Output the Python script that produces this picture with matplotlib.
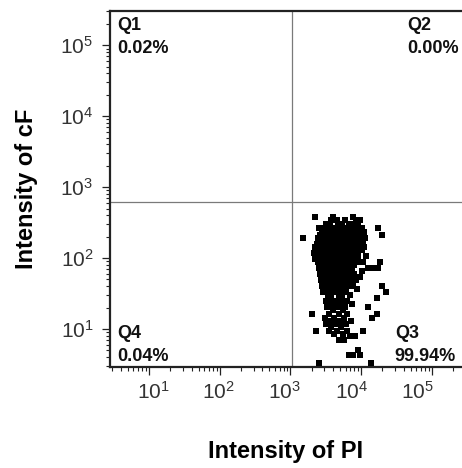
import matplotlib
matplotlib.use('Agg')
import matplotlib.pyplot as plt
import matplotlib.transforms as mtrans
from matplotlib.ticker import LogLocator, NullFormatter
import numpy as np

# ------------------------------------------------------------------ DATA
# quadrant gates and percentages
gate_pi = 1050.0
gate_cf = 620.0
quad_names = ['Q1', 'Q2', 'Q3', 'Q4']
quad_pct = ['0.02%', '0.00%', '99.94%', '0.04%']

# events, log10 intensity, one cF level per row
cf_rows = [2.58, 2.54, 2.48, 2.42, 2.37, 2.32, 2.28, 2.24, 2.20, 2.15,
           2.11, 2.07, 2.03, 1.99, 1.94, 1.90, 1.86, 1.82, 1.77, 1.73,
           1.69, 1.65, 1.61, 1.56, 1.52, 1.48, 1.44, 1.39, 1.35, 1.31,
           1.27, 1.21, 1.15, 1.11, 1.07, 1.03, 0.97, 0.93, 0.90, 0.85,
           0.70, 0.63, 0.52]
pi_rows = [
    [3.35, 3.60, 3.88],
    [3.57, 3.66, 3.77, 3.92, 3.99],
    [3.50, 3.56, 3.67, 3.73, 3.83, 3.88, 3.95],
    [3.40, 3.47, 3.54, 3.60, 3.66, 3.71, 3.78, 3.85, 3.92, 4.01, 4.24],
    [3.45, 3.52, 3.57, 3.63, 3.69, 3.76, 3.81, 3.88, 3.95, 4.04],
    [3.42, 3.49, 3.56, 3.62, 3.74, 3.80, 3.87, 3.94, 4.00, 4.29],
    [3.18, 3.39, 3.46, 3.53, 3.59, 3.64, 3.71, 3.77, 3.84, 3.91, 3.98, 4.05],
    [3.43, 3.50, 3.57, 3.63, 3.69, 3.76, 3.88, 3.95, 4.02],
    [3.37, 3.44, 3.52, 3.59, 3.73, 3.78, 3.85, 3.92, 3.99],
    [3.35, 3.42, 3.49, 3.56, 3.62, 3.69, 3.76, 3.83, 3.90, 4.04],
    [3.39, 3.46, 3.53, 3.60, 3.66, 3.71, 3.78, 3.85, 3.92, 4.01],
    [3.33, 3.42, 3.49, 3.63, 3.69, 3.76, 3.81, 3.88, 3.95],
    [3.37, 3.44, 3.52, 3.59, 3.64, 3.71, 3.78, 3.84, 3.91, 4.07],
    [3.35, 3.42, 3.49, 3.54, 3.62, 3.67, 3.74, 3.81, 3.95],
    [3.39, 3.46, 3.53, 3.59, 3.66, 3.73, 3.80, 3.87, 3.94, 4.02, 4.26],
    [3.43, 3.50, 3.57, 3.63, 3.77, 3.83, 3.90],
    [3.40, 3.47, 3.54, 3.62, 3.67, 3.74, 3.81, 3.87, 4.10, 4.17, 4.24],
    [3.45, 3.52, 3.59, 3.64, 3.71, 3.78, 3.85, 4.01],
    [3.42, 3.49, 3.56, 3.69, 3.76, 3.83, 3.90],
    [3.46, 3.53, 3.60, 3.67, 3.74, 3.80, 3.98],
    [3.43, 3.50, 3.57, 3.64, 3.78, 3.85, 3.92],
    [3.47, 3.54, 3.62, 3.69, 3.76, 3.83],
    [3.45, 3.52, 3.60, 3.67, 3.81, 3.88, 4.29],
    [3.49, 3.56, 3.64, 3.71, 3.78, 3.94],
    [3.46, 3.62, 3.76, 4.35],
    [3.53, 3.69, 3.84],
    [3.58, 3.73, 4.22],
    [3.50, 3.64, 3.80],
    [3.57, 3.71, 3.87],
    [3.52, 3.66, 3.77, 4.10],
    [3.60, 3.74],
    [3.30, 3.54, 3.68, 3.80, 4.22],
    [3.49, 3.62, 3.76, 4.15],
    [3.56, 3.70, 3.86],
    [3.50, 3.64, 3.78],
    [3.58, 3.72],
    [3.36, 3.55, 3.66, 3.80, 4.03],
    [3.62, 3.74],
    [3.84, 3.91],
    [3.69, 3.75],
    [3.96],
    [3.83, 3.88, 3.98],
    [3.40, 4.14],
]

pi = 10 ** np.concatenate([np.array(r) for r in pi_rows])
cf = 10 ** np.repeat(cf_rows, [len(r) for r in pi_rows])

# ------------------------------------------------------------------ STYLE
plt.rcParams['font.family'] = 'Liberation Sans'
plt.rcParams['mathtext.fontset'] = 'custom'
plt.rcParams['mathtext.rm'] = 'Liberation Sans'
plt.rcParams['mathtext.it'] = 'Liberation Sans:italic'
plt.rcParams['mathtext.bf'] = 'Liberation Sans:bold'

fig = plt.figure(figsize=(4.62, 4.68), dpi=100)
ax = fig.add_axes([0.2381, 0.2158, 0.7619, 0.7607])

ax.scatter(pi, cf, s=13, marker='s', color='black', linewidths=0, zorder=3)

ax.axvline(gate_pi, color='#7a7a7a', lw=0.9, zorder=2)
ax.axhline(gate_cf, color='#7a7a7a', lw=0.9, zorder=2)

ax.set_xscale('log')
ax.set_yscale('log')
ax.set_xlim(10 ** 0.447, 10 ** 5.426)
ax.set_ylim(10 ** 0.465, 10 ** 5.483)

for axis in (ax.xaxis, ax.yaxis):
    axis.set_major_locator(LogLocator(base=10, numticks=10))
    axis.set_minor_locator(LogLocator(base=10, subs=np.arange(2, 10), numticks=10))
    axis.set_minor_formatter(NullFormatter())

ax.tick_params(which='major', direction='out', length=6, width=0.9,
               color='#222222', labelsize=15, labelcolor='#333333')
ax.tick_params(which='minor', direction='out', length=3, width=0.8,
               color='#222222')
ax.tick_params(axis='x', which='major', pad=4)
ax.tick_params(axis='y', which='major', pad=6)

for side in ('left', 'bottom', 'top'):
    ax.spines[side].set_linewidth(1.6)
    ax.spines[side].set_color('#222222')
ax.spines['right'].set_visible(False)

# x tick labels in the original sit a little off their ticks
fig.canvas.draw()
shift_px = {1: 4, 2: -1, 3: -6, 4: -10, 5: -14}
for tick in ax.xaxis.get_major_ticks():
    exp = int(round(np.log10(tick.get_loc())))
    if exp in shift_px:
        lab = tick.label1
        lab.set_transform(lab.get_transform() + mtrans.ScaledTranslation(
            shift_px[exp] / 100.0, 0, fig.dpi_scale_trans))

# quadrant labels
tx = [0.02, 0.844, 0.809, 0.02]
ty = [0.983, 0.983, 0.118, 0.118]
for name, pct, x, y in zip(quad_names, quad_pct, tx, ty):
    ax.text(x, y, name, transform=ax.transAxes, ha='left', va='top',
            fontsize=13, fontweight='bold', color='#111111')
    ax.text(x, y - 0.064, pct, transform=ax.transAxes, ha='left', va='top',
            fontsize=13, fontweight='bold', color='#111111')

ax.set_xlabel('Intensity of PI', fontsize=17, fontweight='bold')
ax.set_ylabel('Intensity of cF', fontsize=17, fontweight='bold')
ax.xaxis.set_label_coords(0.5, -0.205)
ax.yaxis.set_label_coords(-0.205, 0.5)

fig.savefig('out.png', dpi=100)
